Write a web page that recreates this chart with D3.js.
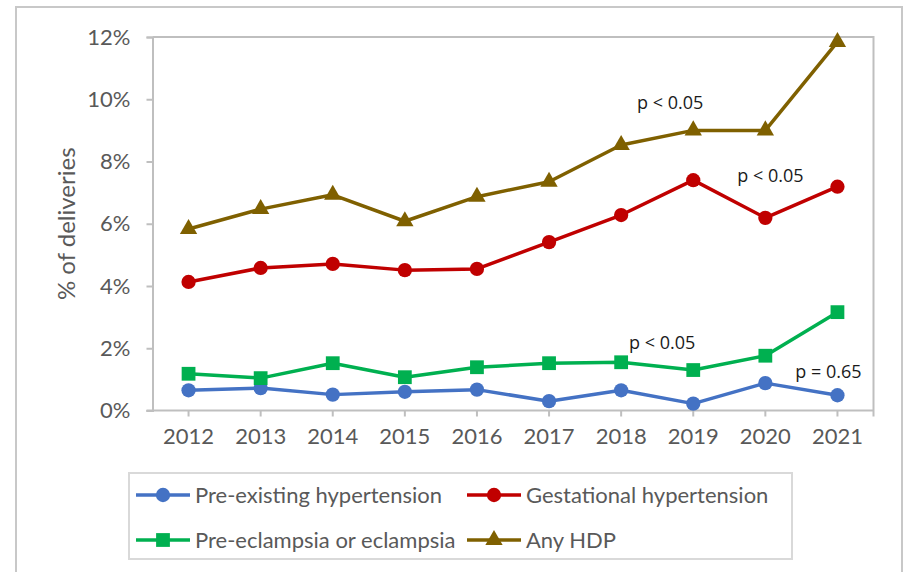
<!DOCTYPE html>
<html>
<head>
<meta charset="utf-8">
<script src="https://cdn.jsdelivr.net/npm/d3@7"></script>
<style>
  body { margin: 0; background: #fff; }
  svg { display: block; }
</style>
</head>
<body>
<svg id="svg" width="908" height="572"></svg>
<script>
// chart data (% of deliveries)
const years = ["2012", "2013", "2014", "2015", "2016", "2017", "2018", "2019", "2020", "2021"];
const preExisting = [0.65, 0.72, 0.51, 0.60, 0.67, 0.30, 0.65, 0.22, 0.88, 0.49];
const gestational = [4.13, 4.58, 4.71, 4.51, 4.55, 5.41, 6.28, 7.40, 6.19, 7.19];
const preEclampsia = [1.18, 1.04, 1.52, 1.07, 1.39, 1.52, 1.55, 1.30, 1.76, 3.16];
const anyHDP = [5.83, 6.47, 6.93, 6.08, 6.87, 7.35, 8.53, 9.00, 9.00, 11.84];
const yTicks = [0, 2, 4, 6, 8, 10, 12];

// annotation text anchored on (category index, value)
const notes = [
  { text: "p < 0.05", at: 6.68, value: 9.69 },
  { text: "p < 0.05", at: 8.07, value: 7.34 },
  { text: "p < 0.05", at: 6.57, value: 1.98 },
  { text: "p = 0.65", at: 8.875, value: 1.04 }
];

const series = [
  { name: "Pre-existing hypertension", values: preExisting, color: "#4472C4", symbol: d3.symbolCircle, size: 160 },
  { name: "Gestational hypertension", values: gestational, color: "#C00000", symbol: d3.symbolCircle, size: 160 },
  { name: "Pre-eclampsia or eclampsia", values: preEclampsia, color: "#00B050", symbol: d3.symbolSquare, size: 190 },
  { name: "Any HDP", values: anyHDP, color: "#7F6000", symbol: d3.symbolTriangle, size: 130 }
];

const svg = d3.select("svg");
const labelFont = "Lato, 'Open Sans', sans-serif";
const grey = "#595959";
const axisGrey = "#BFBFBF";

// outer chart border
svg.append("rect")
  .attr("x", 16).attr("y", 7)
  .attr("width", 886).attr("height", 580)
  .attr("fill", "none")
  .attr("stroke", "#C8C8C8")
  .attr("stroke-width", 2);

let margin = { left: 152.5, right: 873.5, top: 37, bottom: 410.5 };

let x = d3.scaleBand().domain(years).range([margin.left, margin.right]);
let xi = d3.scaleLinear().domain([0, 1]).range([x(years[0]) + x.bandwidth() / 2, x(years[1]) + x.bandwidth() / 2]);
let y = d3.scaleLinear().domain([0, 12]).range([margin.bottom, margin.top]);

let g = svg.append("g");

// plot area frame (top + right)
g.append("path")
  .attr("d", `M${margin.left},${margin.top}H${margin.right}V${margin.bottom + 6}`)
  .attr("fill", "none")
  .attr("stroke", axisGrey)
  .attr("stroke-width", 2);

// y axis
let yAxis = g.append("g")
  .attr("transform", `translate(${margin.left},0)`)
  .call(d3.axisLeft(y).tickValues(yTicks).tickFormat(d => d + "%").tickSize(6).tickPadding(16));
yAxis.select(".domain").attr("stroke", axisGrey).attr("stroke-width", 2);
yAxis.selectAll(".tick line").attr("stroke", axisGrey).attr("stroke-width", 2);
yAxis.selectAll("text")
  .attr("fill", grey)
  .style("font-family", labelFont)
  .style("font-size", "22px");

// x axis
let xAxis = g.append("g")
  .attr("transform", `translate(0,${margin.bottom})`)
  .call(d3.axisBottom(x).tickSizeOuter(0).tickSize(6).tickPadding(12));
xAxis.select(".domain").attr("stroke", axisGrey).attr("stroke-width", 2)
  .attr("d", `M${margin.left - 6},0H${margin.right}`);
xAxis.selectAll(".tick line").attr("stroke", axisGrey).attr("stroke-width", 2);
xAxis.selectAll("text")
  .attr("fill", grey)
  .style("font-family", labelFont)
  .style("font-size", "22px");

// y axis title
g.append("text")
  .attr("transform", `translate(75,${(margin.top + margin.bottom) / 2}) rotate(-90)`)
  .attr("text-anchor", "middle")
  .attr("fill", grey)
  .style("font-family", labelFont)
  .style("font-size", "24px")
  .text("% of deliveries");

let line = d3.line()
  .x((d, i) => x(years[i]) + x.bandwidth() / 2)
  .y(d => y(d));

// lines first, then markers on top
series.forEach(s => {
  g.append("path")
    .datum(s.values)
    .attr("fill", "none")
    .attr("stroke", s.color)
    .attr("stroke-width", 3.5)
    .attr("stroke-linejoin", "round")
    .attr("d", line);
});
series.forEach(s => {
  let sym = d3.symbol().type(s.symbol).size(s.size);
  g.selectAll(null)
    .data(s.values)
    .enter().append("path")
      .attr("d", sym)
      .attr("fill", s.color)
      .attr("transform", (d, i) => `translate(${x(years[i]) + x.bandwidth() / 2},${y(d)})`);
});

// p-value notes
g.selectAll(".note")
  .data(notes)
  .enter().append("text")
    .attr("class", "note")
    .attr("x", d => xi(d.at))
    .attr("y", d => y(d.value))
    .attr("text-anchor", "middle")
    .attr("fill", "#1a1a1a")
    .style("font-family", "'Open Sans', sans-serif")
    .style("font-size", "18px")
    .text(d => d.text);

// legend
let legend = svg.append("g");
legend.append("rect")
  .attr("x", 129).attr("y", 473)
  .attr("width", 663).attr("height", 86)
  .attr("fill", "#fff")
  .attr("stroke", "#D9D9D9")
  .attr("stroke-width", 2);

let cols = [136, 467], rows = [495, 540];
series.forEach((s, i) => {
  let lx = cols[i % 2], ly = rows[Math.floor(i / 2)];
  let item = legend.append("g").attr("transform", `translate(${lx},${ly})`);
  item.append("line")
    .attr("x1", 0).attr("x2", 54)
    .attr("stroke", s.color)
    .attr("stroke-width", 3.5);
  item.append("path")
    .attr("d", d3.symbol().type(s.symbol).size(s.size)())
    .attr("transform", "translate(27,0)")
    .attr("fill", s.color);
  item.append("text")
    .attr("x", 59)
    .attr("dy", "0.35em")
    .attr("fill", grey)
    .style("font-family", labelFont)
    .style("font-size", "22px")
    .text(s.name);
});
</script>
</body>
</html>
